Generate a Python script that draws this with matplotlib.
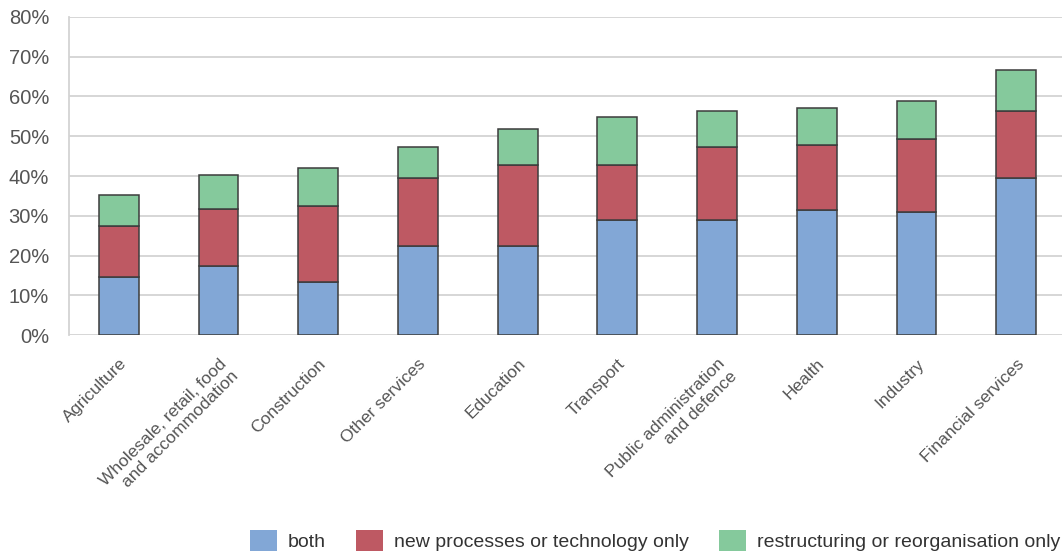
import matplotlib.pyplot as plt
from matplotlib.patches import Patch
import numpy as np

plt.rcParams['font.family'] = ['Liberation Sans', 'DejaVu Sans']

sectors = ['Agriculture', 'Wholesale, retail, food\nand accommodation', 'Construction',
           'Other services', 'Education', 'Transport',
           'Public administration\nand defence', 'Health', 'Industry', 'Financial services']
both = [14.6, 17.5, 13.5, 22.4, 22.4, 28.9, 28.9, 31.4, 31.0, 39.6]
tech_only = [12.8, 14.2, 18.9, 17.2, 20.4, 13.9, 18.5, 16.4, 18.2, 16.7]
reorg_only = [7.8, 8.6, 9.6, 7.8, 8.9, 12.1, 8.9, 9.3, 9.6, 10.4]
series_names = ['both', 'new processes or technology only', 'restructuring or reorganisation only']
colors = ['#82a7d6', '#be5963', '#85c99c']

fig = plt.figure(figsize=(10.62, 5.54), dpi=100)
ax = fig.add_axes([69 / 1062, 0.3948, 993 / 1062, 0.575])

x = np.arange(len(sectors))
bottom = np.zeros(len(sectors))
for vals, c in zip([both, tech_only, reorg_only], colors):
    ax.bar(x, vals, width=0.4, bottom=bottom, color=c, edgecolor='#3c3c3c',
           linewidth=1.1, zorder=3)
    bottom += np.array(vals)

ax.set_ylim(0, 80)
ax.set_xlim(-0.5, 9.46)
ax.set_yticks(range(0, 81, 10))
ax.set_yticklabels([f'{v}%' for v in range(0, 81, 10)])
ax.yaxis.grid(True, color='#d3d3d3', linewidth=1.3, zorder=0)
ax.tick_params(axis='both', length=0, labelcolor='#555555')
ax.tick_params(axis='y', pad=14.4, labelsize=14.5)
for s in ['top', 'right', 'bottom']:
    ax.spines[s].set_visible(False)
ax.spines['left'].set_color('#d3d3d3')
ax.spines['left'].set_linewidth(1.3)

ax.set_xticks(x)
ax.set_xticklabels(sectors, rotation=45, ha='right', va='top', rotation_mode='anchor',
                   multialignment='right')
ax.tick_params(axis='x', pad=15, labelsize=12.5)

handles = [Patch(facecolor=c, edgecolor='none') for c in colors]
fig.legend(handles, series_names, loc='center left',
           bbox_to_anchor=(250 / 1062, 1 - 540.5 / 554), ncol=3,
           frameon=False, fontsize=14, handlelength=1.39, handleheight=1.29,
           handletextpad=0.57, columnspacing=1.54, borderpad=0, borderaxespad=0,
           labelcolor='#333333')

fig.savefig('out.png', dpi=100)
